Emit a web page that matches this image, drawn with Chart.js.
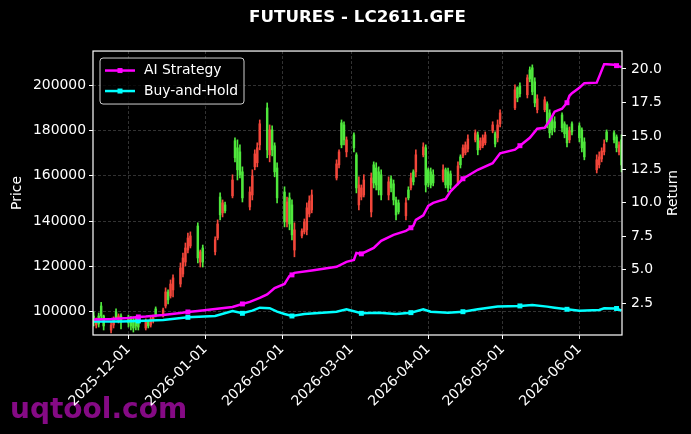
<!DOCTYPE html>
<html>
<head>
<meta charset="utf-8">
<script src="https://cdn.jsdelivr.net/npm/chart.js@4.4.1/dist/chart.umd.min.js"></script>
<style>
  html, body { margin: 0; padding: 0; background: #000; }
  #wrap { width: 691px; height: 434px; }
</style>
</head>
<body>
<div id="wrap"><canvas id="chart" width="691" height="434"></canvas></div>
<script>
// daily candles (red = up, green = down)
const candleDates = [
  '2025-11-17','2025-11-18','2025-11-19','2025-11-20','2025-11-21','2025-11-24','2025-11-25','2025-11-26','2025-11-27','2025-11-28',
  '2025-12-01','2025-12-02','2025-12-03','2025-12-04','2025-12-05','2025-12-08','2025-12-09','2025-12-10','2025-12-11','2025-12-12',
  '2025-12-15','2025-12-16','2025-12-17','2025-12-18','2025-12-19','2025-12-22','2025-12-23','2025-12-24','2025-12-25','2025-12-26',
  '2025-12-29','2025-12-30','2025-12-31',
  '2026-01-05','2026-01-06','2026-01-07','2026-01-08','2026-01-09','2026-01-12','2026-01-13','2026-01-14','2026-01-15','2026-01-16',
  '2026-01-19','2026-01-20','2026-01-21','2026-01-22','2026-01-23','2026-01-26','2026-01-27','2026-01-28','2026-01-29','2026-01-30',
  '2026-02-02','2026-02-03','2026-02-04','2026-02-05','2026-02-06','2026-02-09','2026-02-10','2026-02-11','2026-02-12','2026-02-13',
  '2026-02-23','2026-02-24','2026-02-25','2026-02-26','2026-02-27',
  '2026-03-02','2026-03-03','2026-03-04','2026-03-05','2026-03-06','2026-03-09','2026-03-10','2026-03-11','2026-03-12','2026-03-13',
  '2026-03-16','2026-03-17','2026-03-18','2026-03-19','2026-03-20','2026-03-23','2026-03-24','2026-03-25','2026-03-26','2026-03-27',
  '2026-03-30','2026-03-31',
  '2026-04-01','2026-04-02','2026-04-03','2026-04-07','2026-04-08','2026-04-09','2026-04-10','2026-04-13','2026-04-14','2026-04-15',
  '2026-04-16','2026-04-17','2026-04-20','2026-04-21','2026-04-22','2026-04-23','2026-04-24','2026-04-27','2026-04-28','2026-04-29',
  '2026-04-30',
  '2026-05-06','2026-05-07','2026-05-08','2026-05-11','2026-05-12','2026-05-13','2026-05-14','2026-05-15','2026-05-18','2026-05-19',
  '2026-05-20','2026-05-21','2026-05-22','2026-05-25','2026-05-26','2026-05-27','2026-05-28','2026-05-29',
  '2026-06-01','2026-06-02','2026-06-03','2026-06-08','2026-06-09','2026-06-10','2026-06-11','2026-06-12','2026-06-15','2026-06-16',
  '2026-06-17','2026-06-18'
];
const opens = [
  98100,94100,98100,102500,98100,91900,94100,99900,95900,98100,
  97700,97200,96300,96800,95900,92800,95500,94100,96300,101200,
  98100,102500,108700,106900,109600,112200,116600,121900,127200,129000,
  137800,121900,128100,
  126400,132500,150600,143600,147100,151100,175400,172300,170500,161700,
  146200,151500,163900,165700,173600,189900,169200,180200,173200,163400,
  152800,139600,150200,147100,127200,133400,135200,136100,143100,144900,
  159000,164800,183300,182400,170500,
  178000,169200,147100,150600,151500,144000,164800,163400,161700,160400,
  151500,158600,156400,149300,148000,142300,153700,154600,161700,161700,
  169200,172300,
  162600,161700,160400,158100,162600,161700,160800,156800,168300,168700,
  170100,171800,175800,178000,172300,173200,174500,179800,178500,176700,
  182900,
  189900,198800,199600,195700,206700,207600,201400,189100,189100,191700,
  187700,184600,183800,186800,182900,181100,175800,182900,
  182000,180200,174900,162600,164800,167400,170500,179300,178900,177100,
  170500,175800
];
const highs = [
  99900,97200,99400,104100,98500,95500,97700,101200,99000,99000,
  98500,97900,97700,97200,96300,96800,95900,97700,98500,102100,
  101600,110500,109600,114000,116200,121500,125900,130300,134700,135200,
  139200,127200,129400,
  133000,140500,152400,149300,148400,160400,176700,175800,173600,163900,
  155100,162600,171400,174500,184600,192100,182400,182000,174500,165700,
  155100,150600,152400,149300,139200,136500,140900,148000,151100,153700,
  167000,171400,184600,183800,177100,
  178900,170100,159500,155900,160400,161200,166100,165700,163900,162600,
  159500,159900,158100,150600,149300,150200,155100,161200,162600,171400,
  174500,173600,
  163400,163400,162600,164800,163400,163400,162100,166100,169200,173600,
  174900,178000,180200,179300,176700,178000,179300,183800,179300,184600,
  189100,
  200100,199200,201000,204500,208000,208900,203200,195700,194800,192600,
  189100,185500,186000,187700,183800,182400,181500,183800,
  183300,181100,176700,169200,170500,172300,175800,180200,179800,178000,
  174900,178000
];
const lows = [
  93700,92800,93200,97200,91900,90600,92800,96300,95000,92400,
  93200,91900,91000,91900,91900,91900,92800,93200,95000,97700,
  97700,101600,103400,106000,106500,110900,115300,120200,125900,128100,
  121500,119700,119700,
  125000,131700,140500,141800,143600,150200,166100,158100,159000,148400,
  144900,149300,162600,163900,171400,167900,166100,168700,159500,148000,
  137400,137400,136100,131700,124200,132500,134300,133900,141800,143600,
  158100,163400,172300,173600,168300,
  170500,152400,144900,149300,150600,141800,154600,153700,151500,149300,
  149300,152800,147100,140500,143100,140500,149300,153700,155900,159500,
  168300,152800,
  155100,154600,155500,157300,154600,152800,154200,155900,163400,167900,
  169200,170500,174900,169200,171400,172300,173600,178900,172700,174900,
  181500,
  189100,192600,194800,194300,201400,195700,190400,187700,188200,181100,
  176700,178000,179300,179300,176700,172700,174500,178000,
  174900,170500,167000,161200,163400,166100,169200,174900,174500,170500,
  169200,161700
];
const closes = [
  95500,95900,94600,98100,93700,94100,96300,97200,98100,95500,
  95000,93700,92800,93700,93200,95500,93700,96800,98100,98500,
  100800,108700,105200,112200,114900,119300,123700,128100,132500,133400,
  123700,126400,121900,
  131700,138700,142700,148000,144500,158100,167900,162600,160400,150200,
  152800,159900,169600,172300,182900,171400,180200,171400,161700,150200,
  139600,148400,138700,133900,136100,135600,139600,145800,148900,151500,
  165200,170500,173600,175800,175800,
  172300,154600,155900,154600,158100,159000,156800,155900,153700,151500,
  157300,154600,149300,142700,144000,148000,150200,159000,157300,169200,
  172700,155900,
  156800,155900,156800,162600,155900,154600,155900,164300,164800,172300,
  173600,176200,178900,171400,175400,176700,178000,182400,174000,182400,
  187700,
  197900,194300,196100,203200,202700,197000,192100,193900,193500,182900,
  178900,180200,181100,181100,178500,174500,179800,179300,
  176700,172300,168300,167000,168300,170900,174000,175800,175800,172300,
  173600,164800
];

// return curves (right axis)
const aiDates = [
  '2025-11-17','2025-11-24','2025-12-01','2025-12-05','2025-12-08','2025-12-15','2025-12-22','2025-12-25','2025-12-29',
  '2026-01-05','2026-01-12','2026-01-16','2026-01-19','2026-01-23','2026-01-26','2026-01-29',
  '2026-02-02','2026-02-04','2026-02-05','2026-02-06','2026-02-13','2026-02-23','2026-02-27',
  '2026-03-02','2026-03-03','2026-03-05','2026-03-10','2026-03-13','2026-03-18','2026-03-23','2026-03-25','2026-03-26','2026-03-27','2026-03-30',
  '2026-04-01','2026-04-03','2026-04-08','2026-04-10','2026-04-15','2026-04-21','2026-04-27','2026-04-30',
  '2026-05-06','2026-05-08','2026-05-12','2026-05-15','2026-05-18','2026-05-20','2026-05-22','2026-05-25','2026-05-27','2026-05-28','2026-05-29',
  '2026-06-01','2026-06-03','2026-06-08','2026-06-09','2026-06-11','2026-06-12','2026-06-15','2026-06-16','2026-06-18'
];
const aiReturn = [
  1.29,1.33,1.40,1.48,1.51,1.62,1.77,1.85,1.92,
  2.07,2.22,2.45,2.60,2.90,3.16,3.64,
  3.94,4.54,4.62,4.77,4.95,5.22,5.59,
  5.74,6.26,6.19,6.64,7.16,7.61,7.91,8.14,8.29,8.73,9.07,
  9.78,10.00,10.30,10.86,11.80,12.47,12.96,13.70,
  13.97,14.27,14.86,15.54,15.61,16.13,16.81,17.03,17.48,18.00,18.19,
  18.60,18.94,18.98,19.43,20.36,20.36,20.32,20.25,20.14
];
const bhDates = [
  '2025-11-17','2025-11-28','2025-12-05','2025-12-15','2025-12-25',
  '2026-01-05','2026-01-12','2026-01-16','2026-01-20','2026-01-23','2026-01-27','2026-01-30',
  '2026-02-02','2026-02-05','2026-02-10','2026-02-23','2026-02-27',
  '2026-03-05','2026-03-12','2026-03-19','2026-03-25','2026-03-30',
  '2026-04-02','2026-04-09','2026-04-15','2026-04-21','2026-04-29',
  '2026-05-08','2026-05-13','2026-05-19','2026-05-22','2026-05-27',
  '2026-06-01','2026-06-09','2026-06-11','2026-06-16','2026-06-18'
];
const bhReturn = [
  1.14,1.14,1.18,1.25,1.45,
  1.55,1.92,1.75,1.95,2.17,2.13,1.87,
  1.70,1.55,1.70,1.87,2.05,
  1.75,1.80,1.70,1.80,2.05,
  1.87,1.80,1.87,2.05,2.25,
  2.30,2.37,2.25,2.17,2.05,
  1.95,2.00,2.13,2.11,1.95
];
const markerDates = ['2025-12-05','2025-12-25','2026-01-16','2026-02-05','2026-03-05','2026-03-25','2026-04-15','2026-05-08','2026-05-27','2026-06-16'];

const xTickLabels = ['2025-12-01','2026-01-01','2026-02-01','2026-03-01','2026-04-01','2026-05-01','2026-06-01'];
const priceTicks = [100000, 120000, 140000, 160000, 180000, 200000];
const returnTicks = [2.5, 5, 7.5, 10, 12.5, 15, 17.5, 20];

const UP = '#f2463a';
const DOWN = '#4fe83c';
const GRID = 'rgba(140,140,140,0.45)';
const FONT = 'DejaVu Sans';
const FS = 13.9;
const tickFont = { family: FONT, size: FS };

// days since 2025-12-01
const DAY0 = Date.UTC(2025, 11, 1);
function dayNum(s) {
  const p = s.split('-').map(Number);
  return (Date.UTC(p[0], p[1] - 1, p[2]) - DAY0) / 86400000;
}

const markerSet = new Set(markerDates);
const candleColor = (i) => closes[i] >= opens[i] ? UP : DOWN;

const bgPlugin = {
  id: 'bg',
  beforeDraw(chart) {
    const ctx = chart.ctx;
    ctx.save();
    ctx.fillStyle = '#000';
    ctx.fillRect(0, 0, chart.width, chart.height);
    // watermark
    ctx.fillStyle = '#850a85';
    ctx.font = 'bold 28px "DejaVu Sans"';
    ctx.textBaseline = 'alphabetic';
    ctx.fillText('uqtool.com', 10, 418);
    ctx.restore();
  }
};

const framePlugin = {
  id: 'frame',
  afterDatasetsDraw(chart) {
    const ctx = chart.ctx;
    const ca = chart.chartArea;
    ctx.save();
    ctx.strokeStyle = '#fff';
    ctx.lineWidth = 1.2;
    ctx.strokeRect(ca.left, ca.top, ca.right - ca.left, ca.bottom - ca.top);

    // legend box, top-left inside the plot
    const lx = ca.left + 7, ly = ca.top + 7, lw = 144, lh = 46;
    ctx.beginPath();
    ctx.roundRect(lx, ly, lw, lh, 3);
    ctx.fillStyle = 'rgba(0,0,0,0.8)';
    ctx.fill();
    ctx.strokeStyle = '#cfcfcf';
    ctx.lineWidth = 1;
    ctx.stroke();
    const items = chart.data.datasets.filter(d => d.type === 'line');
    items.forEach((d, i) => {
      const cy = ly + 12.5 + i * 20.5;
      ctx.strokeStyle = d.borderColor;
      ctx.lineWidth = 2.5;
      ctx.beginPath();
      ctx.moveTo(lx + 5, cy);
      ctx.lineTo(lx + 35, cy);
      ctx.stroke();
      ctx.fillStyle = d.borderColor;
      ctx.fillRect(lx + 20 - 2.5, cy - 2.5, 5, 5);
      ctx.fillStyle = '#fff';
      ctx.font = FS + 'px "DejaVu Sans"';
      ctx.textBaseline = 'middle';
      ctx.textAlign = 'left';
      ctx.fillText(d.label, lx + 44, cy);
    });

    // right axis title, reading bottom to top
    ctx.save();
    ctx.translate(chart.width - 18, (ca.top + ca.bottom) / 2);
    ctx.rotate(-Math.PI / 2);
    ctx.fillStyle = '#fff';
    ctx.font = FS + 'px "DejaVu Sans"';
    ctx.textAlign = 'center';
    ctx.textBaseline = 'middle';
    ctx.fillText('Return', 0, 0);
    ctx.restore();
    ctx.restore();
  }
};

new Chart(document.getElementById('chart'), {
  type: 'bar',
  data: {
    datasets: [
      {
        type: 'line',
        label: 'AI Strategy',
        data: aiDates.map((d, i) => ({ x: dayNum(d), y: aiReturn[i] })),
        yAxisID: 'yR',
        borderColor: '#ff00ff',
        backgroundColor: '#ff00ff',
        borderWidth: 2.5,
        tension: 0,
        pointStyle: 'rect',
        pointRadius: c => markerSet.has(aiDates[c.dataIndex]) ? 3.5 : 0,
        pointBorderWidth: 0,
        order: 0
      },
      {
        type: 'line',
        label: 'Buy-and-Hold',
        data: bhDates.map((d, i) => ({ x: dayNum(d), y: bhReturn[i] })),
        yAxisID: 'yR',
        borderColor: '#00ffff',
        backgroundColor: '#00ffff',
        borderWidth: 2.5,
        tension: 0,
        pointStyle: 'rect',
        pointRadius: c => markerSet.has(bhDates[c.dataIndex]) ? 3.5 : 0,
        pointBorderWidth: 0,
        order: 0
      },
      {
        label: 'wick',
        data: candleDates.map((d, i) => ({ x: dayNum(d), y: [lows[i], highs[i]] })),
        yAxisID: 'y',
        backgroundColor: c => candleColor(c.dataIndex),
        barThickness: 1,
        grouped: false,
        borderWidth: 0,
        order: 2
      },
      {
        label: 'body',
        data: candleDates.map((d, i) => ({ x: dayNum(d), y: [opens[i], closes[i]] })),
        yAxisID: 'y',
        backgroundColor: c => candleColor(c.dataIndex),
        barThickness: 1.8,
        grouped: false,
        borderWidth: 0,
        minBarLength: 1,
        order: 1
      }
    ]
  },
  options: {
    responsive: false,
    devicePixelRatio: 1,
    animation: false,
    layout: { padding: 0 },
    plugins: {
      legend: { display: false },
      tooltip: { enabled: false },
      title: {
        display: true,
        text: 'FUTURES - LC2611.GFE',
        color: '#fff',
        font: { family: FONT, size: 16.7, weight: 'bold' },
        padding: { top: 8, bottom: 23 },
        fullSize: false
      }
    },
    scales: {
      x: {
        type: 'linear',
        min: -14.3,
        max: 199.2,
        offset: false,
        afterBuildTicks: s => { s.ticks = xTickLabels.map(t => ({ value: dayNum(t) })); },
        afterFit: s => { s.height = 99; },
        ticks: {
          autoSkip: false, minRotation: 45, maxRotation: 45,
          color: '#fff', font: tickFont, padding: 2,
          callback: (v, i) => xTickLabels[i]
        },
        grid: { offset: false, color: GRID, lineWidth: 0.8, tickColor: '#fff', tickLength: 4, tickWidth: 1, tickBorderDash: [] },
        border: { display: false, dash: [3, 2] }
      },
      y: {
        position: 'left',
        min: 89700,
        max: 215000,
        afterBuildTicks: s => { s.ticks = priceTicks.map(v => ({ value: v })); },
        afterFit: s => { s.width = 93; },
        ticks: { color: '#fff', font: tickFont, padding: 3, callback: v => String(v) },
        grid: { color: GRID, lineWidth: 0.8, tickColor: '#fff', tickLength: 4, tickWidth: 1, tickBorderDash: [] },
        border: { display: false, dash: [3, 2] },
        title: { display: true, text: 'Price', color: '#fff', font: tickFont, padding: { top: 8.7, bottom: 0 } }
      },
      yR: {
        position: 'right',
        min: 0.13,
        max: 21.34,
        afterBuildTicks: s => { s.ticks = returnTicks.map(v => ({ value: v })); },
        afterFit: s => { s.width = 69; },
        ticks: { color: '#fff', font: tickFont, padding: 5, callback: v => v.toFixed(1) },
        grid: { drawOnChartArea: false, tickColor: '#fff', tickLength: 4, tickWidth: 1 },
        border: { display: false }
      }
    }
  },
  plugins: [bgPlugin, framePlugin]
});
</script>
</body>
</html>
